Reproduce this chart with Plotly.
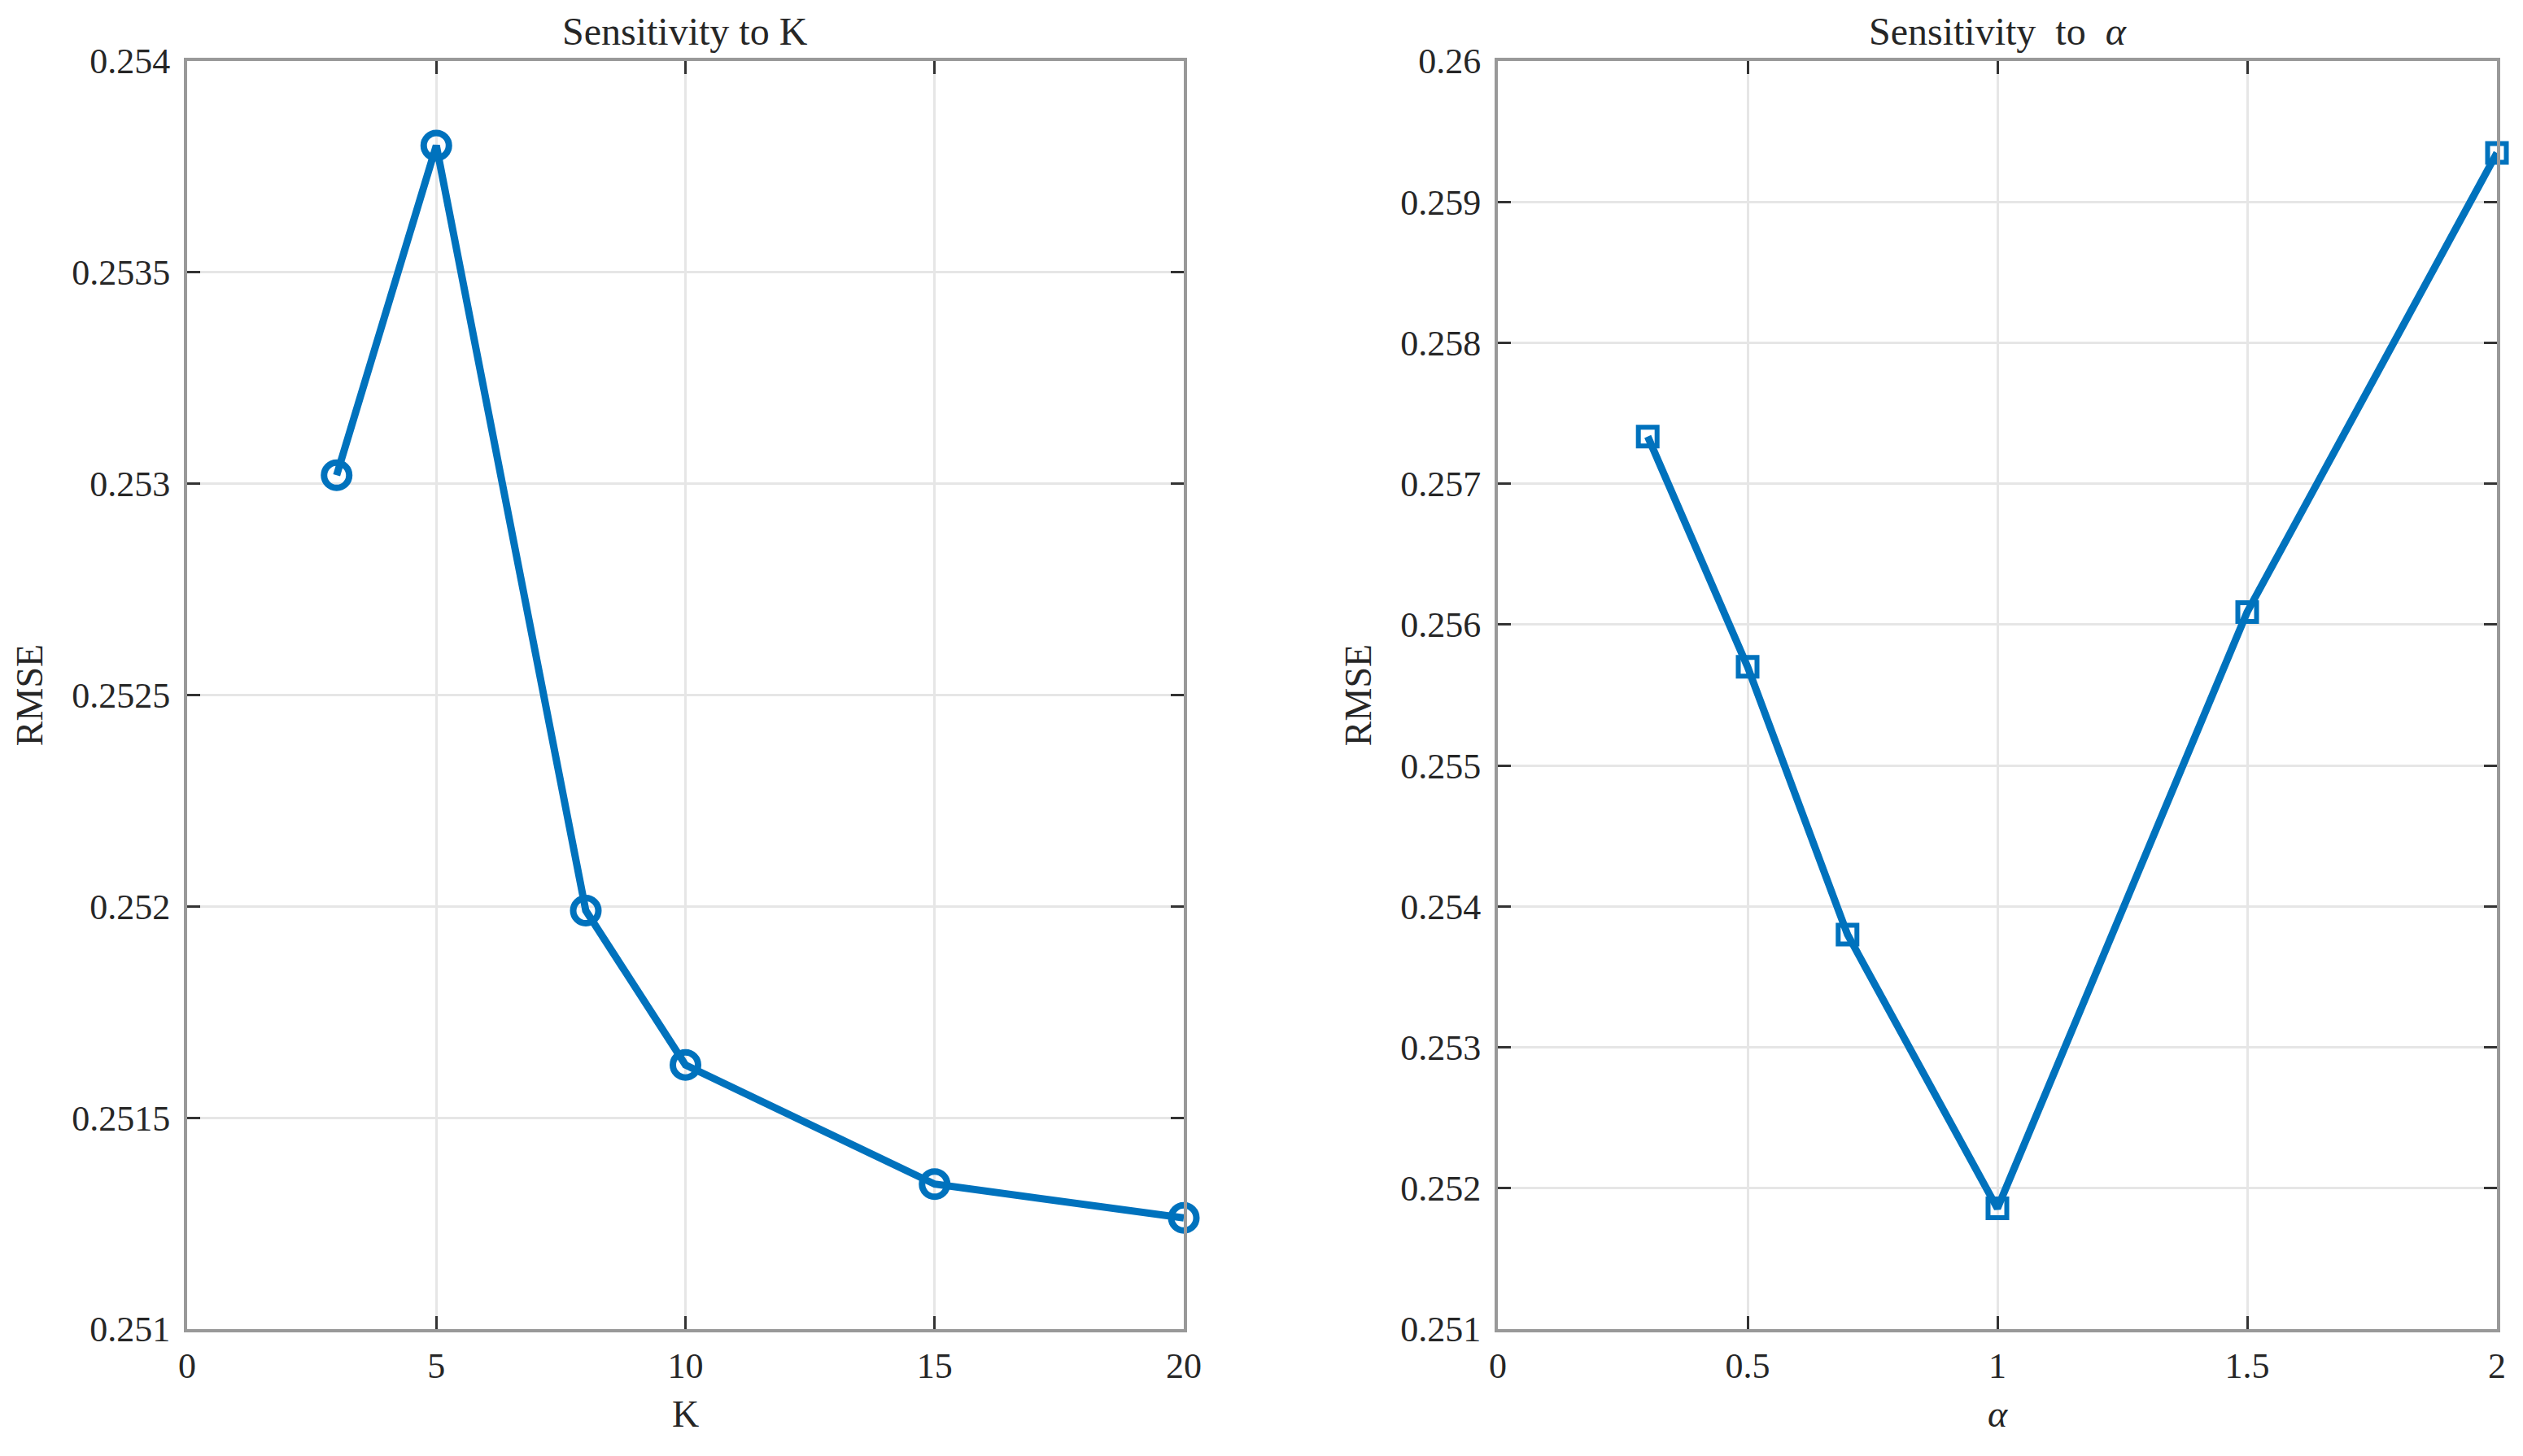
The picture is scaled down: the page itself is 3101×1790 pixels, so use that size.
import plotly.graph_objects as go

# ---------------- data ----------------
k_values = [3, 5, 8, 10, 15, 20]
rmse_k = [0.25302, 0.25380, 0.25199, 0.251625, 0.251343, 0.251263]

alpha_values = [0.3, 0.5, 0.7, 1.0, 1.5, 2.0]
rmse_alpha = [0.257335, 0.25570, 0.25380, 0.251857, 0.256089, 0.259348]

k_ticks = [0, 5, 10, 15, 20]
k_tick_text = ["0", "5", "10", "15", "20"]
rmse_k_ticks = [0.251, 0.2515, 0.252, 0.2525, 0.253, 0.2535, 0.254]
rmse_k_tick_text = ["0.251", "0.2515", "0.252", "0.2525", "0.253", "0.2535", "0.254"]

alpha_ticks = [0, 0.5, 1, 1.5, 2]
alpha_tick_text = ["0", "0.5", "1", "1.5", "2"]
rmse_alpha_ticks = [0.251, 0.252, 0.253, 0.254, 0.255, 0.256, 0.257, 0.258, 0.259, 0.26]
rmse_alpha_tick_text = ["0.251", "0.252", "0.253", "0.254", "0.255",
                        "0.256", "0.257", "0.258", "0.259", "0.26"]

title_k = "Sensitivity to K"
title_alpha = "Sensitivity\u00a0\u00a0to\u00a0\u00a0<i>α</i>"

# ---------------- style ----------------
OFF = 8                      # default page margin around the plot div
W, H = 3101 - 2 * OFF, 1790 - 2 * OFF
BLUE = "#0072BD"
FONT = "Liberation Serif"
TEXT = "#262626"

def px_x(v):
    return (v - OFF) / W

def px_y(v):
    return 1 - (v - OFF) / H

left_dom = [px_x(230), px_x(1455)]
right_dom = [px_x(1841), px_x(3069)]
y_dom = [px_y(1634), px_y(75)]

fig = go.Figure()

fig.add_trace(go.Scatter(
    x=k_values, y=rmse_k, mode="lines+markers",
    line=dict(color=BLUE, width=9),
    marker=dict(symbol="circle-open", size=31, color=BLUE, line=dict(width=8, color=BLUE)),
    xaxis="x", yaxis="y", showlegend=False, hoverinfo="x+y", cliponaxis=False,
))

fig.add_trace(go.Scatter(
    x=alpha_values, y=rmse_alpha, mode="lines+markers",
    line=dict(color=BLUE, width=9),
    marker=dict(symbol="square-open", size=23, color=BLUE, line=dict(width=6, color=BLUE)),
    xaxis="x2", yaxis="y2", showlegend=False, hoverinfo="x+y", cliponaxis=False,
))

common = dict(
    showline=True, linecolor="#999999", linewidth=4, mirror="ticks",
    ticks="inside", ticklen=16, tickwidth=3, tickcolor="#333333",
    showgrid=True, gridcolor="#e6e6e6", gridwidth=3,
    zeroline=False, automargin=False,
    tickfont=dict(family=FONT, size=44, color=TEXT),
    tickmode="array",
)

fig.update_layout(
    template="none",
    width=W, height=H, autosize=False,
    margin=dict(l=0, r=0, t=0, b=0, pad=0),
    paper_bgcolor="white", plot_bgcolor="white",
    font=dict(family=FONT, color=TEXT),
    xaxis=dict(domain=left_dom, range=[0, 20], anchor="y",
               tickvals=k_ticks, ticktext=k_tick_text, ticklabelstandoff=3,
               title=dict(text="K", font=dict(family=FONT, size=46, color=TEXT), standoff=20),
               **common),
    yaxis=dict(domain=y_dom, range=[0.251, 0.254], anchor="x",
               tickvals=rmse_k_ticks, ticktext=rmse_k_tick_text, ticklabelstandoff=8,
               title=dict(text="RMSE", font=dict(family=FONT, size=46, color=TEXT), standoff=22),
               **common),
    xaxis2=dict(domain=right_dom, range=[0, 2], anchor="y2",
                tickvals=alpha_ticks, ticktext=alpha_tick_text, ticklabelstandoff=3,
                title=dict(text="<i>α</i>", font=dict(family=FONT, size=46, color=TEXT), standoff=20),
                **common),
    yaxis2=dict(domain=y_dom, range=[0.251, 0.26], anchor="x2",
                tickvals=rmse_alpha_ticks, ticktext=rmse_alpha_tick_text, ticklabelstandoff=8,
                title=dict(text="RMSE", font=dict(family=FONT, size=46, color=TEXT), standoff=22),
                **common),
    annotations=[
        dict(text=title_k, xref="paper", yref="paper",
             x=(left_dom[0] + left_dom[1]) / 2, y=y_dom[1],
             xanchor="center", yanchor="bottom", yshift=8, showarrow=False,
             font=dict(family=FONT, size=48, color=TEXT)),
        dict(text=title_alpha, xref="paper", yref="paper",
             x=(right_dom[0] + right_dom[1]) / 2, y=y_dom[1],
             xanchor="center", yanchor="bottom", yshift=8, showarrow=False,
             font=dict(family=FONT, size=48, color=TEXT)),
    ],
)

fig.write_html("out.html")
